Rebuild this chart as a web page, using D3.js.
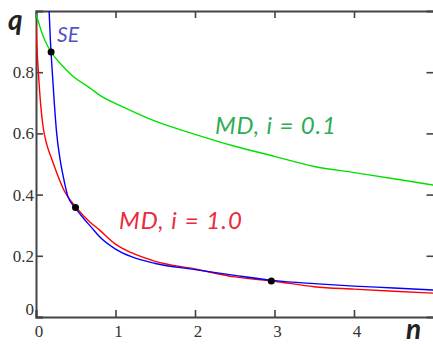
<!DOCTYPE html>
<html>
<head>
<meta charset="utf-8">
<script src="https://cdn.jsdelivr.net/npm/d3@7"></script>
<style>
  html, body { margin: 0; padding: 0; background: #fff; }
  svg { display: block; }
  .ticklabel { font-family: "Liberation Serif", "Times New Roman", serif; font-size: 17px; fill: #333; }
</style>
</head>
<body>
<script>
// Data
const greenN = [0, 0.05, 0.11, 0.19, 0.3, 0.45, 0.68, 0.8, 1.1, 1.5, 2.0, 2.5, 3.0, 3.5, 4.0, 4.5, 5.0]
const greenQ = [0.99, 0.948, 0.905, 0.866, 0.83, 0.79, 0.748, 0.725, 0.686, 0.64, 0.597, 0.558, 0.525, 0.492, 0.472, 0.452, 0.431]
const redN = [0, 0.01, 0.03, 0.06, 0.09, 0.14, 0.2, 0.27, 0.36, 0.5, 0.68, 0.8, 1.0, 1.2, 1.5, 2.0, 2.5, 3.0, 3.5, 4.0, 4.5, 5.0]
const redQ = [0.96, 0.89, 0.8, 0.69, 0.62, 0.56, 0.515, 0.465, 0.41, 0.36, 0.31, 0.284, 0.238, 0.21, 0.182, 0.157, 0.131, 0.117, 0.099, 0.091, 0.084, 0.078]
const blueN = [0.165, 0.18, 0.2, 0.23, 0.26, 0.3, 0.35, 0.4, 0.49, 0.6, 0.7, 0.8, 1.0, 1.2, 1.5, 2.0, 2.5, 3.0, 3.5, 4.0, 4.5, 5.0]
const blueQ = [1.0, 0.91, 0.82, 0.7, 0.6, 0.52, 0.45, 0.395, 0.358, 0.322, 0.292, 0.262, 0.222, 0.197, 0.175, 0.155, 0.136, 0.119, 0.109, 0.101, 0.095, 0.088]
const dotN = [0.19, 0.497, 2.96]
const dotQ = [0.866, 0.358, 0.118]
const xTicks = [0, 1, 2, 3, 4]
const yTicks = [0, 0.2, 0.4, 0.6, 0.8]

// Create SVG
const width = 433, height = 344
const svg = d3.select("body").append("svg").attr("width", width).attr("height", height)
const x = d3.scaleLinear().domain([0, 5]).range([36, 433.5])
const y = d3.scaleLinear().domain([0, 1]).range([317, 11])
const axisColor = "#444"

svg.append("clipPath").attr("id", "plot")
  .append("rect").attr("x", 36).attr("y", 11).attr("width", 400).attr("height", 306)

// Frame with inward ticks on all sides
svg.append("g").attr("transform", `translate(0,${y(0)})`)
  .call(d3.axisTop(x).tickValues(xTicks).tickSize(7).tickFormat(""))
svg.append("g").attr("transform", `translate(0,${y(1)})`)
  .call(d3.axisBottom(x).tickValues(xTicks.slice(1)).tickSize(7).tickFormat(""))
svg.append("g").attr("transform", `translate(${x(0)},0)`)
  .call(d3.axisRight(y).tickValues(yTicks).tickSize(7).tickFormat(""))
svg.append("g").attr("transform", `translate(${x(5)},0)`)
  .call(d3.axisLeft(y).tickValues(yTicks.slice(1)).tickSize(7).tickFormat(""))
svg.selectAll(".domain, .tick line").attr("stroke", axisColor).attr("stroke-width", 1.6)
svg.selectAll(".domain").attr("stroke-width", 2)

// Tick labels
svg.append("g")
  .selectAll("text")
  .data(xTicks)
  .join("text")
  .attr("class", "ticklabel")
  .attr("x", d => x(d) + 3)
  .attr("y", 337)
  .attr("text-anchor", "middle")
  .text(d => d)
svg.append("g")
  .selectAll("text")
  .data(yTicks)
  .join("text")
  .attr("class", "ticklabel")
  .attr("x", 34)
  .attr("y", d => d === 0 ? 315 : y(d) + 6)
  .attr("text-anchor", "end")
  .text(d => d === 0 ? "0" : d3.format(".1f")(d))

// Curves
const line = d3.line().x(d => x(d[0])).y(d => y(d[1])).curve(d3.curveMonotoneX)
const curves = [
  { n: greenN, q: greenQ, color: "#00e000" },
  { n: redN, q: redQ, color: "#ff0000" },
  { n: blueN, q: blueQ, color: "#0000ff" },
]
svg.append("g")
  .attr("clip-path", "url(#plot)")
  .selectAll("path")
  .data(curves)
  .join("path")
  .attr("d", c => line(c.n.map((n, i) => [n, c.q[i]])))
  .attr("fill", "none")
  .attr("stroke", c => c.color)
  .attr("stroke-width", 1.4)

// Intersection dots
svg.append("g")
  .selectAll("circle")
  .data(dotN)
  .join("circle")
  .attr("cx", d => x(d))
  .attr("cy", (_, i) => y(dotQ[i]))
  .attr("r", 3.5)
  .attr("fill", "#000")

// Labels
const labels = [
  { text: "q", x: 8, y: 30, size: 28, color: "#222", weight: "bold", len: null },
  { text: "n", x: 406, y: 339, size: 28, color: "#222", weight: "bold", len: null },
  { text: "SE", x: 57, y: 42, size: 21, color: "#5353cc", weight: "normal", len: null },
  { text: "MD, i = 1.0", x: 119, y: 229, size: 24, color: "#ea2a3e", weight: "normal", len: 123 },
  { text: "MD, i = 0.1", x: 215, y: 134, size: 24, color: "#2cad52", weight: "normal", len: 121 },
]
svg.append("g")
  .attr("font-family", "Lato, 'Open Sans', sans-serif")
  .attr("font-style", "italic")
  .selectAll("text")
  .data(labels)
  .join("text")
  .attr("x", d => d.x)
  .attr("y", d => d.y)
  .attr("font-size", d => `${d.size}px`)
  .attr("font-weight", d => d.weight)
  .attr("fill", d => d.color)
  .attr("textLength", d => d.len)
  .attr("lengthAdjust", "spacing")
  .text(d => d.text)
</script>
</body>
</html>
